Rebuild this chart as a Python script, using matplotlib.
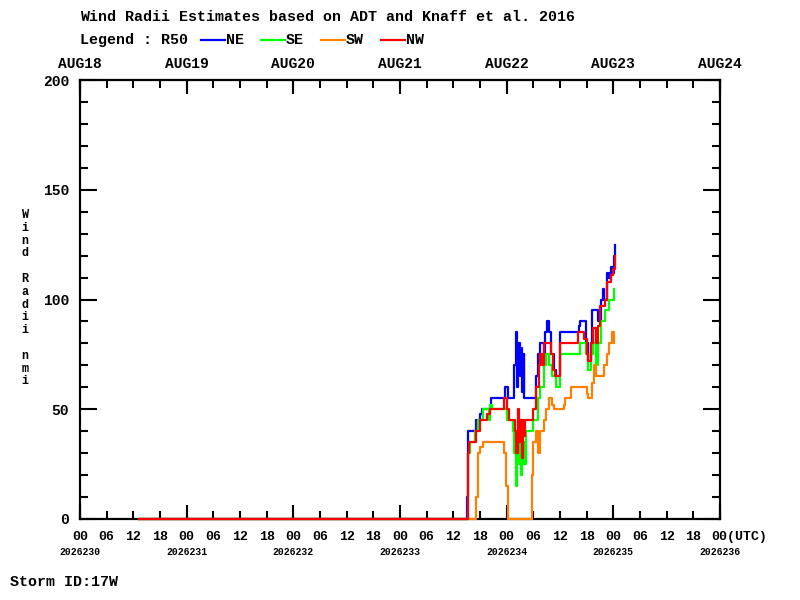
import matplotlib
matplotlib.use('Agg')
import matplotlib.pyplot as plt
from matplotlib.lines import Line2D
from matplotlib.ticker import MultipleLocator

# hours since 2026233 00UTC, radius (nmi); values hold until the next time
ne_t = [-58.7, 15.0, 15.3, 17.2, 17.9, 18.5, 20.5, 23.7, 24.2, 25.7, 26.0, 26.3, 26.6, 26.9, 27.2, 27.5, 27.8,
        28.0, 30.5, 31.0, 31.6, 32.3, 32.7, 33.0, 33.5, 34.0, 34.6, 35.0, 35.9, 40.2, 40.5, 41.8, 42.2, 42.9,
        43.3, 44.5, 45.2, 45.6, 46.0, 46.5, 47.0, 47.4, 47.9, 48.1, 48.4]
ne_v = [0, 10, 40, 45, 48, 50, 55, 60, 55, 70, 85, 60, 80, 65, 78, 58, 75,
        55, 65, 75, 80, 70, 85, 90, 85, 75, 68, 65, 85, 88, 90, 80, 72, 80,
        95, 90, 100, 105, 100, 112, 110, 115, 112, 120, 125]

se_t = [-58.7, 15.2, 15.8, 16.9, 17.6, 18.7, 20.0, 20.3, 20.8, 24.1, 25.5, 25.7, 26.0, 26.3, 26.6, 26.9, 27.2,
        27.5, 27.8, 28.3, 30.0, 31.0, 31.6, 32.3, 32.9, 33.6, 34.2, 35.0, 35.9, 40.5, 41.8, 42.3, 43.0,
        43.4, 44.0, 44.5, 45.2, 46.1, 47.0, 48.2]
se_v = [0, 30, 35, 40, 45, 50, 45, 52, 50, 45, 40, 30, 15, 40, 25, 45, 20,
        35, 25, 40, 45, 55, 60, 70, 75, 70, 65, 60, 75, 80, 75, 68, 75,
        80, 70, 80, 90, 95, 100, 105]

sw_t = [-58.7, 17.2, 17.5, 18.1, 18.7, 23.5, 23.9, 24.2, 29.6, 30.0, 30.6, 31.0, 31.6, 32.3, 32.9, 33.6,
        34.2, 34.7, 36.8, 37.2, 38.5, 42.0, 42.4, 43.1, 43.6, 44.2, 46.0, 46.5, 47.0, 47.6, 48.1]
sw_v = [0, 10, 30, 33, 35, 30, 15, 0, 20, 35, 40, 30, 40, 45, 50, 55,
        52, 50, 52, 55, 60, 57, 55, 62, 70, 65, 70, 75, 80, 85, 80]

nw_t = [-58.7, 15.3, 15.6, 17.0, 17.9, 19.6, 20.3, 23.5, 24.0, 24.5, 25.9, 26.2, 26.5, 26.8, 27.1, 27.4,
        27.7, 28.0, 28.2, 30.0, 30.7, 31.2, 31.6, 32.0, 32.5, 33.9, 34.4, 34.8, 35.9, 40.0, 41.5, 42.0,
        42.4, 43.0, 43.4, 44.0, 44.5, 45.1, 46.1, 46.5, 47.4, 47.9, 48.4]
nw_v = [0, 30, 35, 40, 45, 48, 50, 55, 50, 45, 40, 30, 50, 35, 45, 28,
        45, 38, 45, 50, 60, 70, 75, 70, 80, 75, 68, 65, 80, 85, 82, 75,
        72, 80, 87, 80, 88, 97, 100, 108, 111, 114, 120]

top_labels = ['AUG18', 'AUG19', 'AUG20', 'AUG21', 'AUG22', 'AUG23', 'AUG24']
day_labels = ['2026230', '2026231', '2026232', '2026233', '2026234', '2026235', '2026236']
hour_labels = ['00', '06', '12', '18']

FONT = 'Liberation Mono'


def to_days(hours):
    # axis runs in days since 2026230 00UTC
    return [3 + h / 24.0 for h in hours]


fig = plt.figure(figsize=(8, 6), dpi=100)
ax = fig.add_axes([80 / 800, 81 / 600, 640 / 800, 439 / 600])

series = [(ne_t, ne_v, '#0000ff'), (se_t, se_v, '#00ff00'),
          (sw_t, sw_v, '#ff8000'), (nw_t, nw_v, '#ff0000')]
for t, v, c in series:
    ax.plot(to_days(t), v, color=c, lw=1.6, drawstyle='steps-post', clip_on=False, zorder=3)

ax.set_xlim(0, 6)
ax.set_ylim(0, 200)
for s in ax.spines.values():
    s.set_linewidth(1.6)

# long ticks at each day, short ticks every 6 h carrying the hour labels
ax.xaxis.remove_overlapping_locs = False
xt = [i / 4.0 for i in range(25)]
xl = [hour_labels[i % 4] for i in range(25)]
xl[-1] = ''
ax.set_xticks(range(7), [''] * 7)
ax.set_xticks(xt, xl, minor=True)
ax.yaxis.set_major_locator(MultipleLocator(50))
ax.yaxis.set_minor_locator(MultipleLocator(10))
ax.tick_params(which='both', direction='in', top=True, right=True, width=1.5)
ax.tick_params(which='major', length=10)
ax.tick_params(which='minor', length=6)
ax.tick_params(axis='x', which='minor', pad=9, labelsize=9.5)
ax.tick_params(axis='y', which='major', length=12, pad=8, labelsize=10.5)
for lab in ax.get_xticklabels(minor=True) + ax.get_yticklabels():
    lab.set_fontfamily(FONT)
    lab.set_fontweight('bold')

xtr = ax.get_xaxis_transform()
# last hour label starts at its tick like the original
ax.text(6 - 0.078, -0.04, '00(UTC)', transform=xtr, ha='left', va='center',
        fontsize=9.5, fontfamily=FONT, fontweight='bold')
for i in range(7):
    ax.text(i, -0.075, day_labels[i], transform=xtr, ha='center', va='center',
            fontsize=7, fontfamily=FONT, fontweight='bold')
    ax.text(i, 1.037, top_labels[i], transform=xtr, ha='center', va='center',
            fontsize=10.5, fontfamily=FONT, fontweight='bold')

fig.text(80 / 800, 1 - 17 / 600, 'Wind Radii Estimates based on ADT and Knaff et al. 2016',
         ha='left', va='center', fontsize=10.8, fontfamily=FONT, fontweight='bold')
fig.text(80 / 800, 1 - 40 / 600, 'Legend : R50', ha='left', va='center',
         fontsize=10.8, fontfamily=FONT, fontweight='bold')
leg = [('NE', '#0000ff', 201), ('SE', '#00ff00', 261), ('SW', '#ff8000', 321), ('NW', '#ff0000', 381)]
for name, c, x0 in leg:
    fig.add_artist(Line2D([x0 / 800, (x0 + 24) / 800], [1 - 40 / 600] * 2, color=c, lw=1.6))
    fig.text((x0 + 25) / 800, 1 - 40 / 600, name, ha='left', va='center',
             fontsize=10.8, fontfamily=FONT, fontweight='bold')

ylab = 'Wind Radii nmi'
for i, ch in enumerate(ylab):
    if ch != ' ':
        fig.text(25 / 800, 1 - (215 + 12.8 * i) / 600, ch, ha='center', va='center',
                 fontsize=8.5, fontfamily=FONT, fontweight='bold')

fig.text(10 / 800, 1 - 582 / 600, 'Storm ID:17W', ha='left', va='center',
         fontsize=10.8, fontfamily=FONT, fontweight='bold')

fig.savefig('out.png', dpi=100)
